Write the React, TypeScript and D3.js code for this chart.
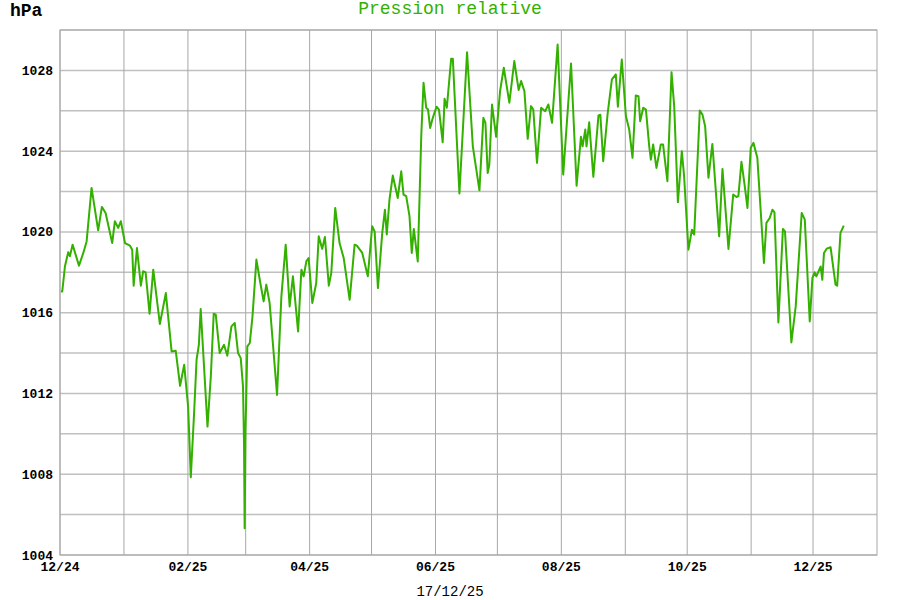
import React from "react";
import * as d3 from "d3";

// days since 2024-12-01 and relative pressure (hPa)
const days = [0.5,1.1,2.4,4.0,4.8,6.1,9.2,11.3,12.9,15.3,18.5,20.3,22.1,25.3,26.6,28.2,29.5,31.5,33.9,35.0,35.7,37.3,39.2,40.3,41.5,43.4,45.2,48.4,51.3,54.1,56.1,58.2,60.2,62.1,63.4,65.0,66.2,67.3,68.2,71.5,73.1,74.5,75.5,77.4,79.5,81.1,83.1,84.7,86.3,87.6,88.7,89.2,89.5,89.9,90.8,92.0,93.3,95.2,97.1,98.7,100.0,101.6,105.2,107.3,109.4,111.3,112.9,115.4,117.0,118.1,119.4,120.5,122.3,124.2,125.4,127.1,128.4,130.3,131.5,133.4,135.5,137.5,140.4,142.8,143.9,146.5,149.2,151.3,152.5,154.1,156.2,157.5,158.4,159.7,161.3,163.7,165.4,166.5,167.8,169.4,170.5,171.5,173.4,175.1,176.2,177.5,178.4,179.4,180.7,182.5,183.7,185.5,186.4,187.5,189.6,190.4,193.6,197.3,200.1,203.3,205.2,206.2,207.3,208.1,209.4,211.4,213.3,215.1,217.8,220.2,222.3,223.5,225.1,226.7,228.3,229.4,231.2,233.2,235.2,236.7,238.5,241.2,243.9,247.7,250.4,252.5,253.3,254.6,255.2,256.5,258.5,261.0,261.9,263.3,265.4,267.5,269.4,270.4,272.3,274.3,275.9,277.5,279.1,280.4,281.2,282.7,284.0,285.6,286.4,287.5,289.1,291.2,292.3,294.4,296.4,297.7,299.5,301.4,302.5,304.6,306.3,307.4,310.1,311.4,312.7,314.3,316.2,319.5,321.1,324.0,326.3,327.9,328.8,330.3,331.7,333.2,334.8,336.1,338.0,339.7,341.2,342.4,344.0,345.3,346.3,348.2,350.4,351.4,354.5,356.6,359.5,361.0,363.4,364.7,365.8,366.6,368.7,369.5,370.3,371.6,373.5,375.9,376.7,378.3,379.9];
const values = [1017.05,1017.05,1018.3,1019.0,1018.8,1019.37,1018.33,1018.96,1019.53,1022.18,1020.08,1021.24,1020.94,1019.45,1020.53,1020.2,1020.53,1019.45,1019.32,1019.12,1017.34,1019.2,1017.34,1018.05,1018.0,1015.95,1018.13,1015.44,1016.97,1014.08,1014.11,1012.38,1013.42,1011.35,1007.85,1011.03,1013.67,1014.41,1016.18,1010.36,1012.84,1015.95,1015.9,1014.0,1014.41,1013.87,1015.32,1015.49,1014.0,1013.75,1012.35,1009.54,1005.32,1010.03,1014.33,1014.5,1015.82,1018.63,1017.47,1016.56,1017.39,1016.48,1011.93,1016.81,1019.37,1016.31,1017.8,1015.07,1018.13,1017.8,1018.54,1018.71,1016.48,1017.47,1019.78,1019.16,1019.75,1017.34,1017.97,1021.19,1019.45,1018.71,1016.64,1019.37,1019.32,1018.96,1017.8,1020.28,1020.03,1017.22,1019.95,1021.1,1019.87,1021.6,1022.79,1021.68,1023.0,1021.85,1021.77,1020.78,1018.96,1020.15,1018.54,1024.74,1027.39,1026.15,1026.06,1025.15,1025.65,1026.2,1026.06,1024.44,1026.59,1026.15,1028.58,1028.58,1021.9,1028.9,1024.24,1022.06,1025.65,1025.4,1022.92,1023.34,1026.31,1024.71,1026.97,1028.13,1026.4,1028.46,1027.03,1027.47,1026.97,1024.61,1026.23,1026.06,1023.42,1026.15,1025.98,1026.31,1025.4,1029.28,1022.84,1028.34,1022.29,1024.71,1024.24,1025.07,1024.24,1025.43,1022.73,1025.77,1025.8,1023.5,1025.82,1027.55,1027.8,1026.2,1028.54,1025.73,1025.07,1023.67,1026.76,1026.72,1025.48,1026.15,1026.06,1024.24,1023.58,1024.33,1023.17,1024.33,1024.33,1022.51,1027.91,1026.23,1021.47,1024.0,1022.76,1019.12,1020.11,1019.87,1026.01,1025.81,1025.23,1022.68,1024.36,1019.78,1023.12,1019.16,1021.85,1021.73,1021.77,1023.47,1022.43,1021.19,1024.17,1024.41,1023.67,1020.94,1018.46,1020.45,1020.69,1021.1,1020.97,1015.52,1020.15,1020.03,1014.53,1016.31,1020.94,1020.61,1015.57,1017.72,1018.0,1017.8,1018.29,1017.63,1018.96,1019.17,1019.24,1017.39,1017.34,1019.95,1020.31];

const yTicks = [1004, 1008, 1012, 1016, 1020, 1024, 1028];
const yGrid = [1004, 1006, 1008, 1010, 1012, 1014, 1016, 1018, 1020, 1022, 1024, 1026, 1028, 1030];
const monthLabels = ["12/24", "02/25", "04/25", "06/25", "08/25", "10/25", "12/25"];
const title = "Pression relative";
const unit = "hPa";
const dateLabel = "17/12/25";

const start = new Date(2024, 11, 1);
const end = new Date(2026, 0, 1);

export default function App() {
  const W = 900, H = 600;
  const L = 60, R = 877, T = 30, B = 555;
  const x = d3.scaleTime().domain([start, end]).range([L, R]);
  const y = d3.scaleLinear().domain([1004, 1030]).range([B, T]);
  const toDate = (d: number) => new Date(start.getTime() + d * 86400000);
  const pts = days.map((d, i) => [toDate(d), values[i]] as [Date, number]);
  const line = d3.line<[Date, number]>().x(p => x(p[0])).y(p => y(p[1]));
  const months = d3.timeMonth.range(start, end);
  const green = "#33b000";
  return (
    <svg width={W} height={H} style={{ position: "absolute", left: 0, top: 0, background: "#fff" }}>
      <rect x={0} y={0} width={W} height={H} fill="#fff" />
      {yGrid.map(v => (
        <line key={"h" + v} x1={L} x2={R} y1={y(v)} y2={y(v)} stroke="#c0c0c0" strokeWidth={1.5} />
      ))}
      {months.map((m, i) => (
        <line key={"v" + i} x1={x(m)} x2={x(m)} y1={T} y2={B} stroke="#a8a8a8" strokeWidth={1} />
      ))}
      <rect x={L} y={T} width={R - L} height={B - T} fill="none" stroke="#a8a8a8" strokeWidth={1} />
      <path d={line(pts) || ""} fill="none" stroke={green} strokeWidth={2} strokeLinejoin="round" />
      {yTicks.map(v => (
        <text key={"yt" + v} x={53} y={y(v)} dy="0.35em" textAnchor="end"
          fontFamily="'Liberation Mono', monospace" fontWeight="bold" fontSize={13} fill="#000">{v}</text>
      ))}
      {months.filter((m, i) => i % 2 === 0).map((m, i) => (
        <text key={"xt" + i} x={x(m)} y={571} textAnchor="middle"
          fontFamily="'Liberation Mono', monospace" fontWeight="bold" fontSize={13} fill="#000">{monthLabels[i]}</text>
      ))}
      <text x={10} y={16} fontFamily="'Liberation Mono', monospace" fontWeight="bold" fontSize={18} fill="#000">{unit}</text>
      <text x={450} y={14} textAnchor="middle" fontFamily="'Liberation Mono', monospace" fontSize={18} fill={green}>{title}</text>
      <text x={450} y={596} textAnchor="middle" fontFamily="'Liberation Mono', monospace" fontSize={14} fill="#000">{dateLabel}</text>
    </svg>
  );
}
